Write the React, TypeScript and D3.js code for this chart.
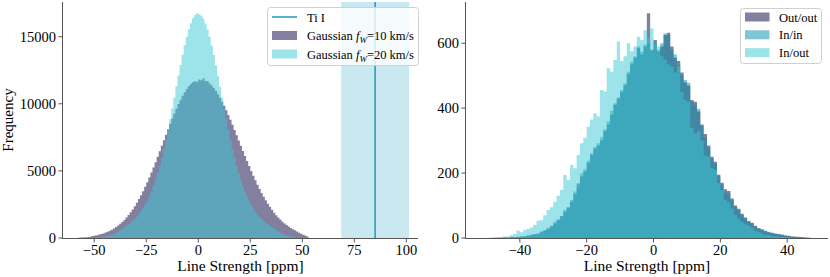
import React from "react";
import * as d3 from "d3";

// ---------- data: left panel ----------
const gauss10Start = -58; // left edge of first bin, bin width 1
const gauss10Counts = [
  20, 28, 36, 48, 62, 80, 105, 153, 181, 214, 252, 295, 344, 401, 465, 537, 620, 712, 815, 930,
  1060, 1200, 1350, 1520, 1710, 1910, 2130, 2370, 2620, 2900, 3180, 3490, 3810, 4150, 4510, 4880, 5260, 5650, 6050, 6460,
  6870, 7280, 7690, 8100, 8510, 8900, 9280, 9640, 9990, 10310, 10600, 10870, 11110, 11320, 11490, 11620, 11680, 11650,
  11820, 11760, 11900, 11690, 11700, 11520, 11370, 11180, 10970, 10720, 10460, 10160, 9850, 9520, 9170, 8810, 8430, 8050,
  7660, 7270, 6880, 6490, 6110, 5730, 5360, 4990, 4640, 4300, 3970, 3660, 3360, 3080, 2810, 2560, 2320, 2100, 1890, 1700,
  1530, 1370, 1220, 1080, 960, 850, 745, 655, 574, 480, 400, 320, 250, 180, 110,
];
const gauss20Start = -50;
const gauss20Counts = [
  12, 20, 32, 48, 70, 100, 140, 190, 250, 320, 400, 490, 590, 700, 825, 920, 1027, 1144, 1274, 1421,
  1584, 1769, 1976, 2208, 2470, 2764, 3095, 3465, 3878, 4336, 4842, 5396, 6000, 6650, 7347, 8084, 8856, 9655, 10470, 11290,
  12110, 12900, 13650, 14360, 15000, 15550, 16010, 16370, 16610, 16750,
  16680, 16580, 16350, 15990, 15530, 14980, 14340, 13630, 12880, 12090, 11270, 10450, 9640, 8840, 8070, 7330, 6640, 5990, 5390, 4830,
  4330, 3870, 3460, 3090, 2760, 2470, 2200, 1970, 1760, 1580, 1420, 1270, 1140, 1020, 920, 820, 700, 590, 490, 400,
  320, 250, 190, 140, 100, 70, 48, 32, 20, 12,
];
const tiLine = 85;
const tiLow = 68.7;
const tiHigh = 101.3;
const leftXTicks = [-50, -25, 0, 25, 50, 75, 100];
const leftYTicks = [0, 5000, 10000, 15000];
const leftLegend = ["Ti I", "=10 km/s", "=20 km/s"];

// ---------- data: right panel ----------
const rightStart = -50; // left edge of first bin, bin width 1
const outOut = [
  0, 1, 0, 1, 1, 2, 1, 3, 2, 4,
  5, 5, 8, 10, 12, 13, 20, 22, 30, 38,
  45, 55, 68, 80, 95, 112, 135, 168, 190, 205,
  232, 255, 275, 285, 300, 330, 350, 380, 410, 432,
  450, 470, 505, 535, 555, 585, 565, 590, 692, 580,
  610, 575, 590, 625, 632, 590, 555, 545, 510, 480,
  470, 425, 420, 390, 350, 320, 285, 250, 235, 195,
  170, 150, 145, 122, 100, 90, 75, 63, 52, 47,
  38, 30, 27, 22, 18, 16, 13, 12, 10, 8,
  6, 5, 4, 3, 2, 1, 1,
];
const inIn = [
  0, 0, 1, 0, 1, 1, 2, 2, 3, 3,
  4, 6, 7, 9, 11, 14, 18, 25, 28, 35,
  50, 58, 64, 86, 92, 117, 143, 153, 199, 212,
  238, 262, 280, 292, 310, 335, 360, 392, 415, 425,
  456, 477, 512, 543, 559, 590, 574, 595, 600, 576,
  602, 580, 600, 630, 625, 580, 565, 533, 502, 487,
  478, 420, 410, 398, 345, 310, 280, 245, 228, 190,
  165, 140, 138, 117, 96, 86, 71, 61, 50, 45,
  35, 30, 25, 21, 19, 15, 14, 11, 11, 8,
  7, 5, 4, 4, 3, 2, 1,
];
const inOut = [
  1, 0, 2, 3, 3, 5, 5, 9, 12, 22,
  18, 25, 28, 32, 40, 53, 55, 70, 86, 95,
  112, 130, 148, 194, 179, 225, 215, 256, 292, 309,
  343, 365, 384, 374, 456, 451, 523, 512, 548, 605,
  545, 560, 600, 575, 590, 620, 610, 640, 615, 645,
  600, 590, 560, 550, 535, 528, 510, 530, 450, 425,
  420, 340, 323, 330, 300, 255, 250, 215, 210, 170,
  148, 117, 110, 90, 72, 60, 50, 42, 38, 30,
  22, 18, 14, 10, 9, 6, 5, 4, 3, 2,
  2, 1, 1, 0, 1, 0, 0,
];
const rightXTicks = [-40, -20, 0, 20, 40];
const rightYTicks = [0, 200, 400, 600];
const rightLegend = ["Out/out", "In/in", "In/out"];

// ---------- styles ----------
const FONT = "'Liberation Serif', 'Times New Roman', serif";
const PURPLE = "#05003f";
const TEAL = "#008da7";
const CYAN = "#39c9d5";
const ALPHA = 0.5;
const BAND = "#2aa5bf";
const LINE = "#2a9fbd";
const SPINE = "#555";

type Frame = { x0: number; x1: number; y0: number; y1: number };

function histPath(start: number, counts: number[], x: d3.ScaleLinear<number, number>, y: d3.ScaleLinear<number, number>) {
  const pts: [number, number][] = counts.map((c, i) => [start + i, c]);
  pts.push([start + counts.length, counts[counts.length - 1]]);
  const area = d3
    .area<[number, number]>()
    .x((d) => x(d[0]))
    .y0(y(0))
    .y1((d) => y(d[1]))
    .curve(d3.curveStepAfter);
  return area(pts) || "";
}

function Axes({ f, x, y, xTicks, yTicks, ylabel }: any) {
  const fmt = d3.format("d");
  return (
    <g fontFamily={FONT} fill="#000">
      <line x1={f.x0} x2={f.x1} y1={f.y1 + 0.5} y2={f.y1 + 0.5} stroke={SPINE} strokeWidth={1} />
      <line x1={f.x0 - 0.5} x2={f.x0 - 0.5} y1={f.y0} y2={f.y1 + 1} stroke={SPINE} strokeWidth={1} />
      {xTicks.map((t: number) => (
        <g key={"x" + t}>
          <line x1={x(t)} x2={x(t)} y1={f.y1 + 1} y2={f.y1 + 4.5} stroke={SPINE} strokeWidth={1} />
          <text x={x(t)} y={f.y1 + 17} fontSize={14.5} textAnchor="middle">
            {fmt(t)}
          </text>
        </g>
      ))}
      {yTicks.map((t: number) => (
        <g key={"y" + t}>
          <line x1={f.x0 - 4.5} x2={f.x0 - 1} y1={y(t)} y2={y(t)} stroke={SPINE} strokeWidth={1} />
          <text x={f.x0 - 7} y={y(t) + 5} fontSize={14.5} textAnchor="end">
            {fmt(t)}
          </text>
        </g>
      ))}
      <text x={(f.x0 + f.x1) / 2} y={271} fontSize={15.5} textAnchor="middle">
        Line Strength [ppm]
      </text>
      {ylabel ? (
        <text transform={`translate(13,${(f.y0 + f.y1) / 2}) rotate(-90)`} fontSize={15} textAnchor="middle">
          {ylabel}
        </text>
      ) : null}
    </g>
  );
}

export default function App() {
  const L: Frame = { x0: 63, x1: 418, y0: 2, y1: 238 };
  const R: Frame = { x0: 466, x1: 828, y0: 2, y1: 238 };

  const lx = d3.scaleLinear().domain([-65, 105.6]).range([L.x0, L.x1]);
  const ly = d3.scaleLinear().domain([0, 17586]).range([L.y1, L.y0]);
  const rx = d3.scaleLinear().domain([-56.1, 52.2]).range([R.x0, R.x1]);
  const ry = d3.scaleLinear().domain([0, 727]).range([R.y1, R.y0]);

  const legFont = 12.5;
  return (
    <svg width={830} height={277} style={{ position: "absolute", left: 0, top: 0 }} xmlns="http://www.w3.org/2000/svg">
      <rect width={830} height={277} fill="#fff" />
      <defs>
        <clipPath id="clipL">
          <rect x={L.x0} y={L.y0} width={L.x1 - L.x0} height={L.y1 - L.y0} />
        </clipPath>
        <clipPath id="clipR">
          <rect x={R.x0} y={R.y0} width={R.x1 - R.x0} height={R.y1 - R.y0} />
        </clipPath>
      </defs>
      {/* Left panel */}
      <g clipPath="url(#clipL)">
        <rect x={lx(tiLow)} y={L.y0} width={lx(tiHigh) - lx(tiLow)} height={L.y1 - L.y0} fill={BAND} fillOpacity={0.25} />
        <line x1={lx(tiLine)} x2={lx(tiLine)} y1={L.y0} y2={L.y1} stroke={LINE} strokeWidth={1.6} />
        <path d={histPath(gauss10Start, gauss10Counts, lx, ly)} fill={PURPLE} fillOpacity={ALPHA} />
        <path d={histPath(gauss20Start, gauss20Counts, lx, ly)} fill={CYAN} fillOpacity={ALPHA} />
      </g>
      <Axes f={L} x={lx} y={ly} xTicks={leftXTicks} yTicks={leftYTicks} ylabel="Frequency" />
      {/* Left legend */}
      <g fontFamily={FONT} fontSize={legFont}>
        <rect x={267.5} y={7.5} width={151} height={58} rx={3} fill="#fff" fillOpacity={0.8} stroke="#d0d0d0" />
        <line x1={272} x2={297} y1={17} y2={17} stroke={LINE} strokeWidth={1.6} />
        <text x={307} y={21.5}>{leftLegend[0]}</text>
        <rect x={272} y={31} width={25} height={9} fill={PURPLE} fillOpacity={ALPHA} />
        <text x={307} y={40}>
          Gaussian <tspan fontStyle="italic">f</tspan>
          <tspan fontStyle="italic" fontSize={9} dy={3}>W</tspan>
          <tspan dy={-3}>{leftLegend[1]}</tspan>
        </text>
        <rect x={272} y={49.5} width={25} height={9} fill={CYAN} fillOpacity={ALPHA} />
        <text x={307} y={58.5}>
          Gaussian <tspan fontStyle="italic">f</tspan>
          <tspan fontStyle="italic" fontSize={9} dy={3}>W</tspan>
          <tspan dy={-3}>{leftLegend[2]}</tspan>
        </text>
      </g>

      {/* Right panel */}
      <g clipPath="url(#clipR)">
        <path d={histPath(rightStart, outOut, rx, ry)} fill={PURPLE} fillOpacity={ALPHA} />
        <path d={histPath(rightStart, inIn, rx, ry)} fill={TEAL} fillOpacity={ALPHA} />
        <path d={histPath(rightStart, inOut, rx, ry)} fill={CYAN} fillOpacity={ALPHA} />
      </g>
      <Axes f={R} x={rx} y={ry} xTicks={rightXTicks} yTicks={rightYTicks} ylabel={null} />
      <g fontFamily={FONT} fontSize={legFont}>
        <rect x={740.5} y={8.5} width={81} height={55} rx={3} fill="#fff" fillOpacity={0.8} stroke="#d0d0d0" />
        {[PURPLE, TEAL, CYAN].map((c, i) => (
          <g key={c}>
            <rect x={745} y={12.5 + i * 17.8} width={24.5} height={9} fill={c} fillOpacity={ALPHA} />
            <text x={779} y={21.5 + i * 17.8}>{rightLegend[i]}</text>
          </g>
        ))}
      </g>
    </svg>
  );
}
